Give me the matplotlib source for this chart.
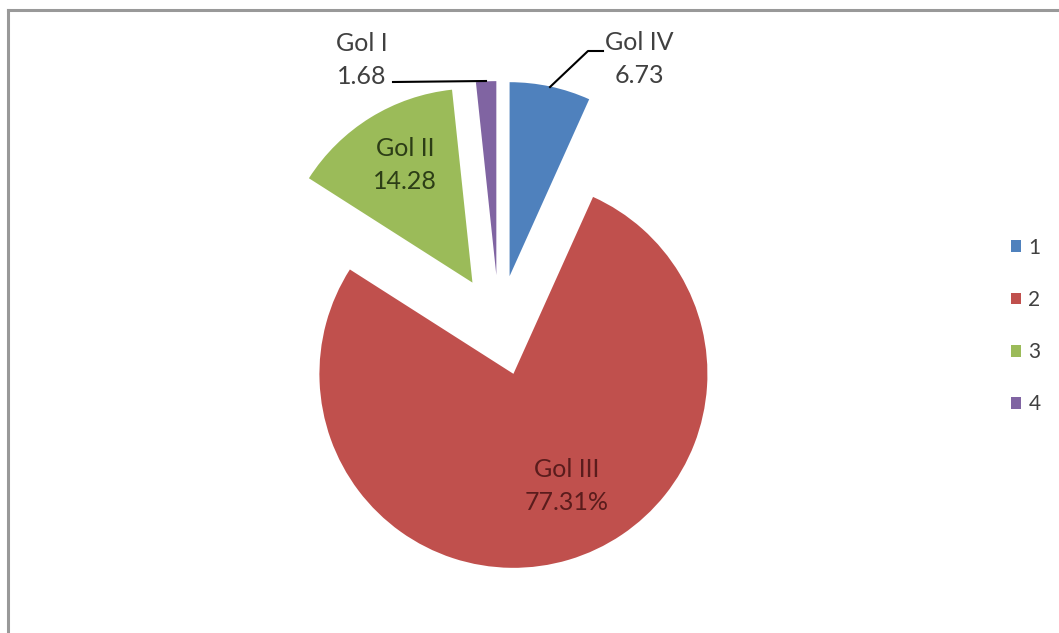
'''Exploded pie chart - Gol I..IV'''

import matplotlib
matplotlib.use("Agg")
import matplotlib.pyplot as plt
from matplotlib.lines import Line2D

# data
series = ["1", "2", "3", "4"]
values = [6.73, 77.31, 14.28, 1.68]
names = ["Gol IV", "Gol III", "Gol II", "Gol I"]
colors = ["#4F81BD", "#C0504D", "#9BBB59", "#8064A2"]

plt.rcParams['font.family'] = ['Lato', 'DejaVu Sans']

W, H = 1059, 633
cx, cy, R = 499, 325.5, 194   # pie centre / radius in pixels (from top-left)

fig = plt.figure(figsize=(W / 100, H / 100), dpi=100)
ax = fig.add_axes([0, 0, 1, 1])
wedges, _ = ax.pie(values, colors=colors, explode=[0.26] * 4,
                   startangle=90, counterclock=False,
                   wedgeprops=dict(linewidth=0))
ax.set_aspect('auto')
ax.set_xlim(-cx / R, (W - cx) / R)
ax.set_ylim(-(H - cy) / R, cy / R)
ax.axis('off')


def fx(px):
    return px / W


def fy(py):
    return 1 - py / H


# labels
lab = dict(ha='center', va='center', fontsize=18, linespacing=1.5)
fig.text(fx(639), fy(59), f"{names[0]}\n{values[0]}", color='#404040', **lab)
fig.text(fx(567), fy(486), f"{names[1]}\n{values[1]}%", color='#5a1c1c', **lab)
fig.text(fx(405), fy(165), f"{names[2]}\n{values[2]}", color='#2c3d16', **lab)
fig.text(fx(362), fy(60), f"{names[3]}\n{values[3]}", color='#404040', **lab)

# leader lines
fig.add_artist(Line2D([fx(550), fx(588), fx(603)], [fy(87), fy(51), fy(51)],
                      color='black', lw=1.5))
fig.add_artist(Line2D([fx(393), fx(486)], [fy(82), fy(81)],
                      color='black', lw=1.5))

# legend
leg = fig.legend(wedges, series, loc='center left',
                 bbox_to_anchor=(fx(992), fy(326)), frameon=False,
                 fontsize=15, handlelength=0.5, handleheight=0.5,
                 handletextpad=0.35, labelspacing=1.55)
for t in leg.get_texts():
    t.set_color('#404040')

# chart border (top + left)
fig.add_artist(Line2D([fx(8), fx(W)], [fy(10), fy(10)], color='#999999', lw=2.2))
fig.add_artist(Line2D([fx(8), fx(8)], [fy(10), fy(H)], color='#999999', lw=2.2))

fig.savefig("out.png", dpi=100)
